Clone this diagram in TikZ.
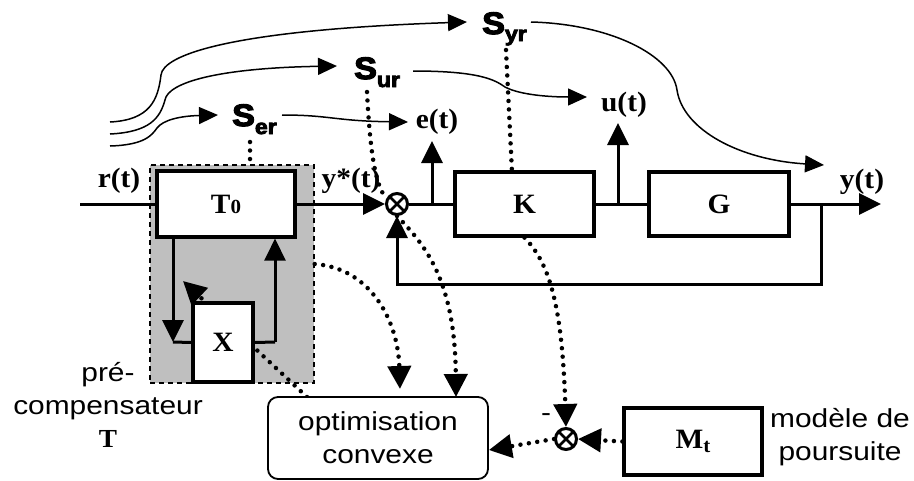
\documentclass[tikz,border=0pt]{standalone}
\usepackage{fontspec}
\setmainfont{Liberation Serif}[FakeStretch=1.05]
\setsansfont{Liberation Sans}[FakeStretch=1.15]
\newfontfamily\sblack{Liberation Sans}[UprightFont={* Bold},FakeBold=4,FakeStretch=1.1]
\usetikzlibrary{arrows.meta,calc}
\begin{document}
\begin{tikzpicture}[x=1pt,y=-1pt,
 lab/.style={font=\bfseries\fontsize{28}{30}\selectfont, inner sep=0pt},
 box/.style={draw, line width=3.2pt, fill=white, inner sep=0pt, font=\bfseries\fontsize{28}{30}\selectfont},
 sumnode/.style={draw, circle, line width=3pt, minimum size=21pt, inner sep=0pt, fill=white,
   path picture={\draw[line width=2.6pt] (path picture bounding box.north west) -- (path picture bounding box.south east)
     (path picture bounding box.north east) -- (path picture bounding box.south west);}},
 sig/.style={line width=3pt},
 arr/.style={-{Triangle[length=22pt,width=21pt]}},
 curve/.style={line width=1.5pt},
 carr/.style={-{Triangle[length=19pt,width=17pt]}},
 dots/.style={line width=4.5pt, line cap=round, dash pattern=on 0pt off 8.5pt},
 darr/.style={-{Triangle[length=23pt,width=23pt]}},
 sfont/.style={font=\sffamily\fontsize{26}{33}\selectfont, align=center, inner sep=0pt},
 sname/.style={anchor=base west, inner sep=0pt, font=\sblack\fontsize{31}{31}\selectfont}
]
\useasboundingbox (0,0) rectangle (914,480);

% pre-compensator frame
\node[draw, dash pattern=on 5pt off 4pt, line width=1.4pt, fill=black!25, minimum width=164pt, minimum height=218pt, inner sep=0pt] (T) at (232,274) {};

% dotted tuning arrow through X
\coordinate (o1) at (307,397);
\coordinate (xt) at (183,281);
\draw[dots,darr] (o1) -- (xt);

% blocks
\node[box, minimum width=60pt, minimum height=79pt] (X) at (223,342.5) {X};
\node[box, minimum width=138pt, minimum height=66pt] (T0) at (226,204) {T{\fontsize{20}{20}\selectfont 0}};
\node[box, minimum width=139pt, minimum height=64pt] (K) at (524.5,204) {K};
\node[box, minimum width=140pt, minimum height=64pt] (G) at (719,204) {G};
\node[box, minimum width=138pt, minimum height=67pt] (Mt) at (693,441.5) {M\raisebox{-4pt}{\fontsize{20}{20}\selectfont t}};
\node[draw, rounded corners=10pt, line width=1.8pt, fill=white, minimum width=220pt, minimum height=82pt, sfont] (opt) at (378,438) {optimisation\\convexe};
\node[sumnode] (sum1) at (397,204) {};
\node[sumnode] (sum2) at (566,439) {};

% signal labels
\node[lab] (rlab) at (119,181) {r(t)};
\node[lab] (yslab) at (351,181) {y*(t)};
\node[lab] (elab) at (437,122) {e(t)};
\node[lab] (ulab) at (624,105) {u(t)};
\node[lab] (ylab) at (862,182) {y(t)};

% sensitivity labels
\node[sname] (ser) at (232,126) {S\raisebox{-8pt}{\fontsize{21}{21}\selectfont er}};
\node[sname] (sur) at (354,79) {S\raisebox{-8pt}{\fontsize{21}{21}\selectfont ur}};
\node[sname] (syr) at (482,34) {S\raisebox{-7pt}{\fontsize{21}{21}\selectfont yr}};

% text labels
\node[sfont] (pre) at (108,405) {pré-\\compensateur\\{\rmfamily\bfseries T}};
\node[sfont] (mod) at (840,437) {modèle de\\poursuite};
\node[font=\sffamily\fontsize{26}{26}\selectfont, inner sep=0pt] (minus) at (546,418) {-};

% main loop
\coordinate (rin) at (80,204);
\draw[sig] (rin) -- (T0.west);
\draw[sig,arr] (T0.east) -- (sum1.west);
\draw[sig] (sum1.east) -- (K.west);
\coordinate (eb) at (432,204); \coordinate (et) at (432,141);
\draw[sig,arr] (eb) -- (et);
\draw[sig] (K.east) -- (G.west);
\coordinate (ub) at (618,204); \coordinate (ut) at (618,123);
\draw[sig,arr] (ub) -- (ut);
\coordinate (yout) at (881,204);
\draw[sig,arr] (G.east) -- (yout);
\coordinate (yb) at (821,204); \coordinate (fbc) at (821,284);
\draw[sig,arr] (yb) -- (fbc) -| (sum1.south);

% inner loop T0 / X
\coordinate (xl) at (173,342); \coordinate (xr) at (275,342);
\draw[sig,arr] (T0.south -| xl) -- (xl);
\draw[sig] (xl) -- (X.west);
\draw[sig] (X.east) -- (xr);
\draw[sig,arr] (xr) -- (T0.south -| xr);

% input curves
\coordinate (c1s) at (110,146); \coordinate (c1e) at (218,115);
\coordinate (c2s) at (110,134); \coordinate (c2e) at (337,66);
\coordinate (c3s) at (110,122); \coordinate (c3e) at (467,22);
\draw[curve,carr] (c1s) .. controls (145,145) and (152,135) .. (157,128) .. controls (163,120) and (180,116) .. (c1e);
\draw[curve,carr] (c2s) .. controls (150,132) and (160,118) .. (165,100) .. controls (168,82) and (220,68) .. (c2e);
\draw[curve,carr] (c3s) .. controls (150,120) and (158,100) .. (161,75) .. controls (163,55) and (230,30) .. (c3e);

% output curves
\coordinate (s1s) at (282,115); \coordinate (s1e) at (408,122);
\draw[curve,carr] (s1s) .. controls (330,115) and (335,121) .. (s1e);
\coordinate (s2s) at (413,71); \coordinate (s2e) at (587,97);
\draw[curve,carr] (s2s) .. controls (480,71) and (495,80) .. (505,87) .. controls (520,95) and (550,97) .. (s2e);
\coordinate (s3s) at (531,22); \coordinate (s3e) at (824,165);
\draw[curve,carr] (s3s) .. controls (610,24) and (672,55) .. (677,90) .. controls (683,130) and (740,160) .. (s3e);

% dotted links
\coordinate (d1s) at (250,142);
\draw[dots] (d1s) -- (T.north -| d1s);
\coordinate (d2s) at (367,92); \coordinate (d2e) at (386,198);
\draw[dots] (d2s) .. controls (370,150) and (375,185) .. (d2e);
\coordinate (d3s) at (506,50); \coordinate (d3e) at (512,172);
\draw[dots] (d3s) -- (d3e);
\draw[dots,darr] (K.south) .. controls (548,262) and (562,300) .. (sum2.north);
\draw[dots,darr] (Mt.west) -- (sum2.east);
\draw[dots,darr] (sum2.west) -- ([yshift=-12pt]opt.east);
\coordinate (o3) at (400,389);
\draw[dots,darr] ([yshift=10pt]T.east) .. controls (370,268) and (398,320) .. (o3);
\coordinate (o2) at (456,397);
\draw[dots,darr] (sum1.south) .. controls (425,245) and (455,280) .. (o2);
\end{tikzpicture}
\end{document}
